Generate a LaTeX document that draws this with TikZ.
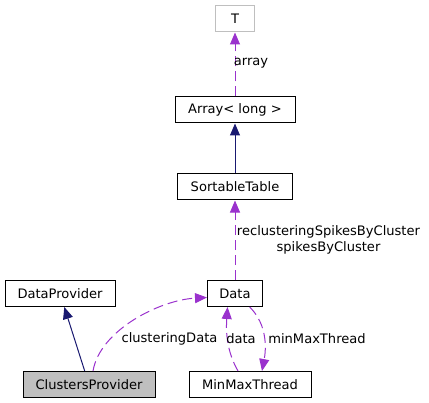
\documentclass[tikz,border=0pt]{standalone}
\usepackage{fontspec}
\setmainfont{DejaVu Sans}
\usetikzlibrary{arrows.meta}
\definecolor{herencia}{HTML}{191970}
\definecolor{uso}{HTML}{9A32CD}
\definecolor{gris}{HTML}{BFBFBF}
\begin{document}
\begin{tikzpicture}[x=0.75pt,y=-0.75pt,
  every node/.style={font=\fontsize{9.8}{12}\selectfont},
  caja/.style={draw=black,rectangle,line width=0.75pt,inner sep=0pt,minimum height=19.5pt},
  hereda/.style={herencia,line width=0.75pt,-{Triangle[length=9pt,width=7.5pt]}},
  usa/.style={uso,line width=0.75pt,dash pattern=on 7.5pt off 3.75pt,-{Triangle[length=9pt,width=7.5pt]}}]
  \useasboundingbox (0,0) rectangle (429,403);

  % Clases
  \node[caja,draw=gris,minimum width=29.25pt] (t) at (235,19) {T};
  \node[caja,minimum width=90pt] (arr) at (235,110) {Array< long >};
  \node[caja,minimum width=86.25pt] (st) at (235,187) {SortableTable};
  \node[caja,minimum width=41.25pt] (data) at (235,293.5) {Data};
  \node[caja,minimum width=82.5pt] (dp) at (60,293.5) {DataProvider};
  \node[caja,fill=gris,minimum width=99pt] (cp) at (89,384.5) {ClustersProvider};
  \node[caja,minimum width=91.5pt] (mmt) at (250,384.5) {MinMaxThread};

  % Herencia
  \foreach \from/\to in {st/arr, cp/dp}
    \draw[hereda] (\from) -- (\to);

  % Uso
  \draw[usa] (arr.north) -- (t.south);
  \draw[usa] (data.north) -- (st.south);
  \draw[usa] ([xshift=3pt]cp.north) .. controls (100,330) and (160,300) .. ([yshift=-3pt]data.west);
  \draw[usa] ([xshift=-9pt]mmt.north) .. controls (226,350) and (226,330) .. ([xshift=-5.6pt]data.south);
  \draw[usa] ([xshift=11pt]data.south) .. controls (268,325) and (266,350) .. ([xshift=9pt]mmt.north);

  % Etiquetas
  \node (larr) at (251,63) {array};
  \node[align=center] (lst) at (328.5,240) {reclusteringSpikesByCluster\\spikesByCluster};
  \node (lcd) at (169.5,339) {clusteringData};
  \node (ld) at (241,339) {data};
  \node (lmmt) at (317,339) {minMaxThread};
\end{tikzpicture}
\end{document}
